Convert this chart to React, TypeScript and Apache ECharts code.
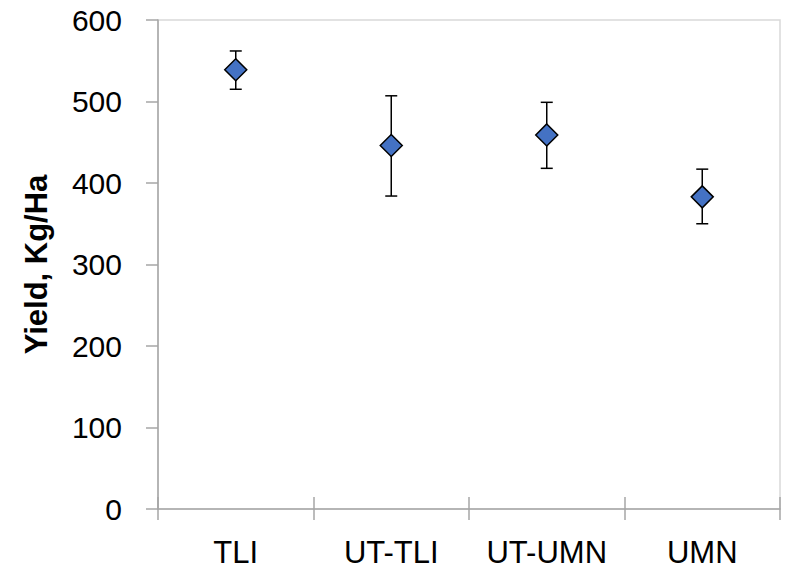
import React, { useEffect, useRef } from "react";
import * as echarts from "echarts";

const categories = ["TLI", "UT-TLI", "UT-UMN", "UMN"];
const yieldMean = [539, 446, 459, 383];
const errUpper = [562, 507, 499, 417];
const errLower = [515, 384, 418, 350];
const yTicks = { min: 0, max: 600, interval: 100 };

const FONT = "Liberation Sans";

export default function App() {
  const ref = useRef<HTMLDivElement>(null);
  useEffect(() => {
    if (!ref.current) return;
    const chart = echarts.init(ref.current, null, { renderer: "svg" });
    const errData = categories.map((_, i) => [i, errLower[i], errUpper[i]]);
    chart.setOption({
      animation: false,
      backgroundColor: "#ffffff",
      grid: {
        left: 158,
        right: 13,
        top: 20,
        bottom: 66,
        show: true,
        borderColor: "#d9d9d9",
        borderWidth: 1.5,
        backgroundColor: "transparent",
      },
      xAxis: [
        {
          type: "category",
          data: categories,
          boundaryGap: true,
          axisLine: { show: true, lineStyle: { color: "#a6a6a6", width: 1.5 } },
          axisTick: { show: true, inside: false, length: 11, alignWithLabel: false, interval: 0, lineStyle: { color: "#a6a6a6", width: 1.5 } },
          axisLabel: { color: "#000", fontFamily: FONT, fontSize: 31, margin: 28, interval: 0, hideOverlap: false },
          splitLine: { show: false },
        },
        {
          type: "category",
          data: categories,
          position: "bottom",
          boundaryGap: true,
          axisLine: { show: false },
          axisTick: { show: true, inside: true, length: 12, alignWithLabel: false, interval: 0, lineStyle: { color: "#a6a6a6", width: 1.5 } },
          axisLabel: { show: false },
          splitLine: { show: false },
        },
      ],
      yAxis: {
        type: "value",
        min: yTicks.min,
        max: yTicks.max,
        interval: yTicks.interval,
        name: "Yield, Kg/Ha",
        nameLocation: "middle",
        nameGap: 106,
        nameTextStyle: { color: "#000", fontFamily: FONT, fontSize: 31, fontWeight: "bold" },
        axisLine: { show: true, lineStyle: { color: "#a6a6a6", width: 1.5 } },
        axisTick: { show: true, inside: false, length: 12, lineStyle: { color: "#a6a6a6", width: 1.5 } },
        axisLabel: { color: "#000", fontFamily: FONT, fontSize: 30, margin: 36 },
        splitLine: { show: false },
      },
      series: [
        {
          type: "custom",
          xAxisIndex: 0,
          data: errData,
          z: 2,
          renderItem: (params: any, api: any) => {
            const x = api.value(0);
            const lo = api.value(1);
            const hi = api.value(2);
            const pHi = api.coord([x, hi]);
            const pLo = api.coord([x, lo]);
            const half = 6;
            const style = { stroke: "#000", lineWidth: 1.5 };
            return {
              type: "group",
              children: [
                { type: "line", shape: { x1: pHi[0], y1: pHi[1], x2: pLo[0], y2: pLo[1] }, style },
                { type: "line", shape: { x1: pHi[0] - half, y1: pHi[1], x2: pHi[0] + half, y2: pHi[1] }, style },
                { type: "line", shape: { x1: pLo[0] - half, y1: pLo[1], x2: pLo[0] + half, y2: pLo[1] }, style },
              ],
            };
          },
        },
        {
          type: "scatter",
          xAxisIndex: 0,
          data: yieldMean,
          symbol: "diamond",
          symbolSize: [22, 22],
          z: 3,
          itemStyle: { color: "#4472C4", borderColor: "#000", borderWidth: 1.5, opacity: 1 },
        },
      ],
    });
    return () => chart.dispose();
  }, []);
  return (
    <div
      ref={ref}
      style={{ position: "absolute", left: 0, top: 0, width: 793, height: 575, background: "#fff" }}
    />
  );
}
